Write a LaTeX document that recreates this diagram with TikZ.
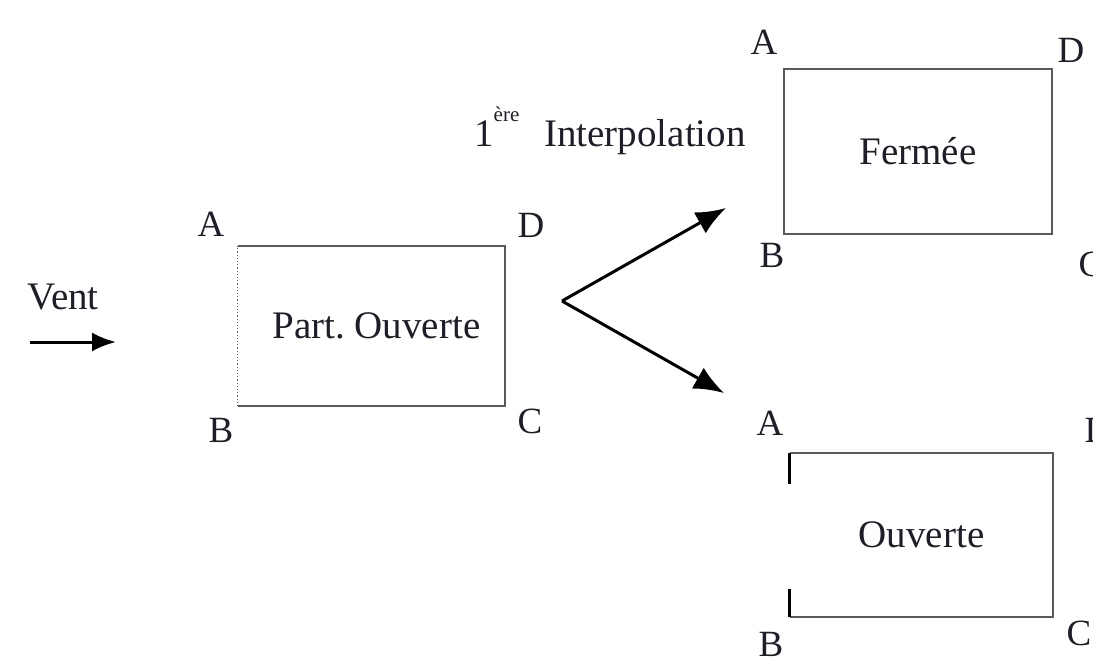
\documentclass[tikz,border=0pt]{standalone}
\usepackage{fontspec}
\setmainfont{Liberation Serif}
\usetikzlibrary{arrows.meta,calc}
\definecolor{boxgray}{HTML}{5A5A5A}
\definecolor{ink}{HTML}{1E1E28}
\begin{document}
\begin{tikzpicture}[x=1pt,y=-1pt,
  txt/.style={inner sep=0pt,text=ink,font=\fontsize{39}{46}\selectfont},
  lbl/.style={inner sep=0pt,text=ink,font=\fontsize{37}{44}\selectfont},
  boxline/.style={draw=boxgray,line width=2pt},
  bigarrow/.style={draw=black,line width=3pt,-{Latex[length=30pt,width=24pt]}},
  ]
\useasboundingbox (0,0) rectangle (1093,662);
% wind
\node[txt] (vent) at (63,297) {Vent};
\coordinate (ws) at (30,342);
\coordinate (we) at (116,342);
\draw[line width=3pt,-{Latex[length=24pt,width=19pt]}] (ws) -- (we);
% partially open box
\node[txt,minimum width=267pt,minimum height=160pt] (po) at (371.5,326) {\hspace{10pt}Part.\ Ouverte};
\draw[boxline] (po.north west) -- (po.north east) -- (po.south east) -- (po.south west);
\draw[boxgray,line width=1.2pt,dotted] (po.south west) -- (po.north west);
\node[lbl] (poA) at (211,224) {A};
\node[lbl] (poD) at (531,225) {D};
\node[lbl] (poB) at (221,430) {B};
\node[lbl] (poC) at (530,421) {C};
% fork arrows
\coordinate (fork) at (562,301);
\coordinate (tupper) at (726,208);
\coordinate (tlower) at (724,393);
\draw[bigarrow] (fork) -- (tupper);
\draw[bigarrow] (fork) -- (tlower);
% label
\node[txt,anchor=base west] (interp) at (474,146) {1\raisebox{0.62em}{\fontsize{21}{24}\selectfont ère}\hspace{25pt}Interpolation};
% closed box
\node[txt,draw=boxgray,line width=2pt,minimum width=268pt,minimum height=165pt] (ferm) at (918,151) {Fermée};
\node[lbl] (fA) at (764,42) {A};
\node[lbl] (fD) at (1071,50) {D};
\node[lbl] (fB) at (772,255) {B};
\node[lbl] (fC) at (1091,264) {C};
% open box
\node[txt,minimum width=263pt,minimum height=164pt] (ouv) at (921.5,535) {Ouverte};
\draw[boxline] (ouv.north west) -- (ouv.north east) -- (ouv.south east) -- (ouv.south west);
\coordinate (o1) at ($(ouv.north west)+(0,31)$);
\coordinate (o2) at ($(ouv.south west)+(0,-28)$);
\draw[black,line width=3pt] (ouv.north west) -- (o1);
\draw[black,line width=3pt] (ouv.south west) -- (o2);
\node[lbl] (oA) at (770,423) {A};
\node[lbl] (oD) at (1098,430) {D};
\node[lbl] (oB) at (771,644) {B};
\node[lbl] (oC) at (1079,633) {C};
\end{tikzpicture}
\end{document}
